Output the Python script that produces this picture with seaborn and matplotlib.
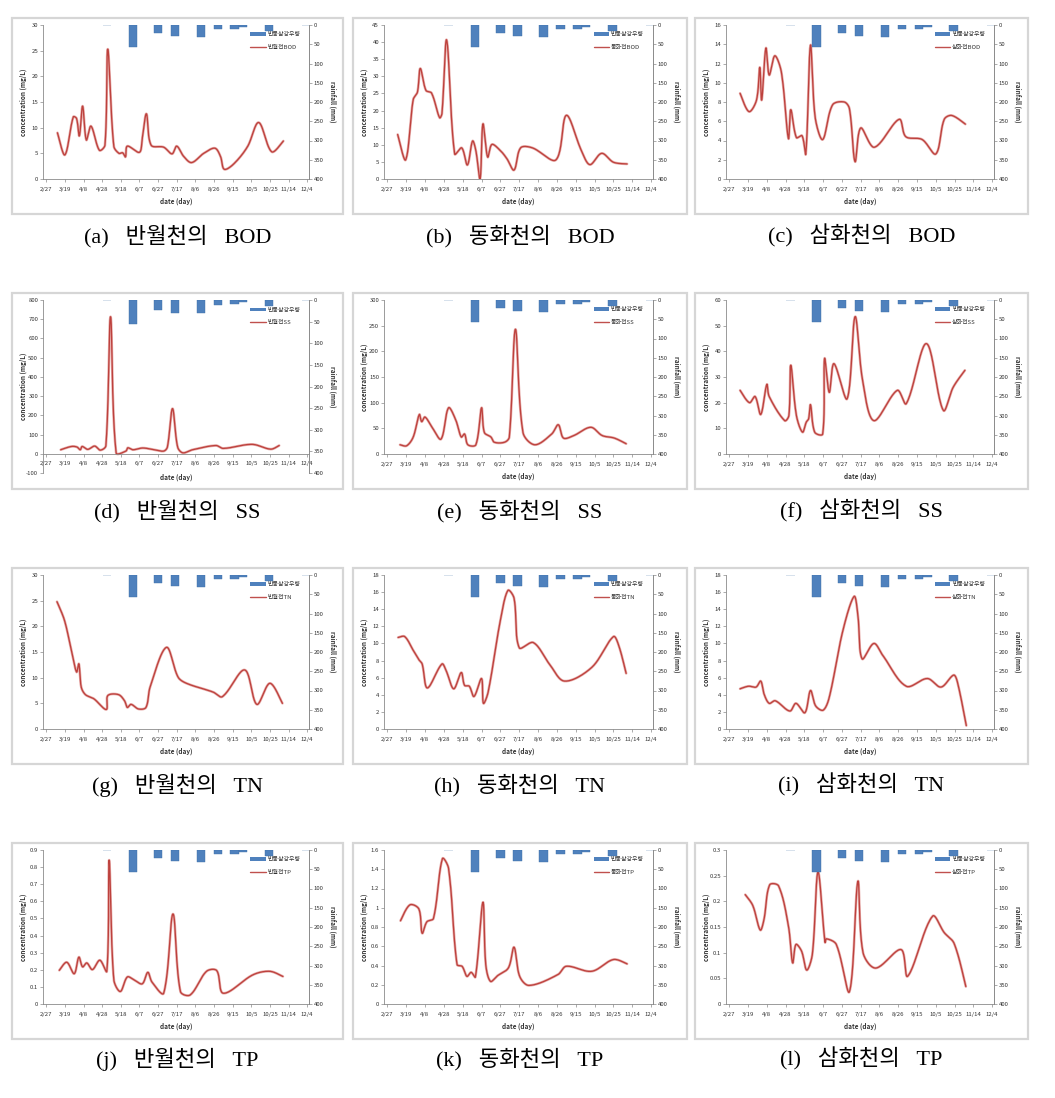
import numpy as np
import pandas as pd
import matplotlib
matplotlib.use("Agg")
import matplotlib.pyplot as plt
import seaborn as sns
from matplotlib.patches import Rectangle, Patch
from matplotlib.lines import Line2D
from matplotlib.ticker import FuncFormatter, MultipleLocator

sns.set_theme(style="white")
plt.rcParams["font.family"] = ["Noto Sans CJK KR", "DejaVu Sans"]

# ---------------- data ----------------
# x axis: days since 2/27
tick_days = [0, 20, 40, 60, 80, 100, 120, 140, 160, 180, 200, 220, 240, 260, 280]
tick_labels = ["2/27", "3/19", "4/8", "4/28", "5/18", "6/7", "6/27", "7/17",
               "8/6", "8/26", "9/15", "10/5", "10/25", "11/14", "12/4"]

rain_day = [65, 93, 120, 138, 166, 184, 202, 211, 239, 279]
rain_mm = [1, 56, 22, 29, 30, 11, 10, 4, 15, 1]
rain_label = "반동삼강우량"

banwol_bod_day = [12, 20, 29, 32.5, 35.5, 39, 43, 48, 57, 63, 66, 72.5, 78, 82, 85, 87, 100, 103,
                  107.5, 112.5, 126, 135, 140, 147.5, 156, 169, 181, 187, 191, 201, 216, 228, 242, 254.5]
banwol_bod = [9.0, 4.7, 12.1, 11.8, 8.4, 14.2, 7.6, 10.3, 5.6, 6.6, 25.3, 6.4, 5.0, 5.1, 4.3, 6.4, 5.2, 7.9,
              12.7, 6.6, 6.2, 4.9, 6.4, 4.4, 3.2, 5.0, 6.0, 4.4, 1.9, 2.9, 6.3, 11.0, 5.3, 7.4]

donghwa_bod_day = [11, 19.5, 27.5, 32, 35, 41, 47, 55.5, 58, 63, 71.5, 79, 85, 90.5, 94, 98.5, 101.5,
                   106.5, 111, 120, 127, 134.5, 141.5, 154, 179, 190, 206, 215, 227.5, 240, 254.5]
donghwa_bod = [13.0, 5.6, 23.2, 25.4, 32.3, 25.9, 25.1, 17.9, 19.1, 40.6, 7.3, 9.1, 4.1, 11.1, 8.3, 0.0, 16.1,
               6.4, 10.1, 8.3, 5.9, 2.6, 9.1, 9.1, 5.6, 18.6, 8.3, 4.2, 7.5, 4.9, 4.4]

samhwa_bod_day = [11.5, 21, 29, 32.5, 34.5, 39, 42.5, 48.5, 55.5, 63, 65.5, 71.5, 77.5, 81.5, 86.5, 91.5,
                  99.5, 110, 122.5, 128, 134, 140, 154.5, 181, 188, 205.5, 220, 229, 237, 251.5]
samhwa_bod = [8.9, 7.0, 8.2, 11.6, 8.2, 13.6, 10.8, 12.8, 11.1, 4.2, 7.2, 4.3, 4.5, 2.6, 13.9, 6.4,
              4.1, 7.7, 8.0, 7.3, 1.8, 5.3, 3.3, 6.2, 4.4, 4.1, 2.6, 6.2, 6.6, 5.7]

banwol_ss_day = [15.5, 27, 33, 36.5, 38.5, 44.5, 52, 58, 64, 69, 75, 85.5, 87.5, 93, 103.5, 116, 126,
                 130, 135.5, 141, 146.5, 157, 182, 190, 221, 241, 250]
banwol_ss = [21, 38, 35, 21, 38, 23, 40, 19, 42, 713, 5, 14, 31, 21, 30, 21, 14,
             35, 235, 35, 5, 21, 43, 28, 49, 24, 43]

donghwa_ss_day = [13.5, 20.5, 27.5, 34, 36.5, 40, 47.5, 57, 65, 72.5, 78.5, 82, 85.5, 94, 100, 103, 110,
                  113.5, 124.5, 129.5, 136, 144, 156.5, 174.5, 181.5, 187, 198, 216, 228, 241, 253.5]
donghwa_ss = [18, 16, 33, 77, 63, 72, 52, 29, 90, 67, 33, 39, 18, 18, 90, 42, 33,
              23, 23, 33, 243, 42, 18, 39, 57, 31, 36, 52, 36, 31, 20]

samhwa_ss_day = [11.5, 21.5, 27.5, 33.5, 40, 42.5, 59, 63.5, 65.5, 71.5, 78, 82, 84.5, 86.5, 91, 99.5,
                 101.5, 106.5, 111.5, 125.5, 134, 142, 154, 179, 188.5, 210, 228, 238.5, 251]
samhwa_ss = [24.8, 20, 22.4, 15.4, 27.1, 22.4, 13, 15, 34.6, 15, 8.5, 12.4, 13.7, 19.2, 8.5, 7.8,
             37.2, 24, 35.2, 21.5, 53.5, 28.7, 13, 24.8, 19.6, 43, 17, 26, 32.6]

banwol_tn_day = [11.5, 19.5, 26.5, 32.5, 35, 37.5, 42, 51, 64.5, 66, 77.5, 84, 87, 91, 99, 107, 111.5,
                 129, 141.5, 150.5, 179, 189, 213, 226, 240, 253.5]
banwol_tn = [24.8, 21.2, 15.7, 11.1, 12.7, 8.2, 6.7, 5.9, 3.8, 6.5, 6.7, 5.5, 4.2, 4.8, 3.9, 4.2, 8.2,
             15.9, 10.1, 8.9, 7.2, 6.3, 11.5, 4.8, 8.9, 5.0]

donghwa_tn_day = [11.5, 18.5, 27.5, 33.5, 37, 42.5, 58, 62.5, 70.5, 78.5, 82, 87, 92, 100, 102, 107, 120,
                  128, 134.5, 140, 155, 172, 188, 217, 240, 245.5, 253.5]
donghwa_tn = [10.7, 10.8, 9.2, 8.1, 7.6, 4.8, 7.6, 6.8, 4.7, 6.6, 5.1, 5.0, 3.8, 5.9, 3.0, 4.3, 12.7,
              16.2, 15.3, 9.5, 10.1, 7.6, 5.6, 7.2, 10.8, 9.8, 6.5]

samhwa_tn_day = [11.5, 20.5, 28.5, 33.5, 37, 42.5, 49, 64.5, 71, 80.5, 86.5, 92, 100, 106.5, 121, 133,
                 137, 141.5, 154, 163.5, 188.5, 211, 225.5, 239, 243, 252.5]
samhwa_tn = [4.7, 5.0, 4.9, 5.6, 4.1, 3.0, 3.3, 2.1, 3.0, 1.9, 4.5, 2.7, 2.2, 3.7, 11.5, 15.5,
             13.3, 8.2, 10.0, 8.6, 5.0, 5.9, 4.9, 6.3, 5.5, 0.4]

banwol_tp_day = [14, 22, 30, 35, 39, 43.5, 49.5, 57.5, 65, 67.5, 72.5, 79.5, 87, 94, 103, 109, 113.5,
                 126, 136, 144, 154.5, 172, 183, 190, 222, 240, 254]
banwol_tp = [0.197, 0.244, 0.177, 0.274, 0.217, 0.240, 0.201, 0.256, 0.191, 0.841, 0.142, 0.073, 0.158,
             0.142, 0.118, 0.185, 0.128, 0.063, 0.526, 0.073, 0.053, 0.191, 0.195, 0.063, 0.171, 0.191, 0.161]

donghwa_tp_day = [14, 24, 33.5, 37, 42, 49, 58.5, 65, 74, 79.5, 84.5, 89, 93.5, 101.5, 104.5, 109.5,
                  117, 128.5, 134.5, 140.5, 150.5, 181, 190, 217, 240, 254.5]
donghwa_tp = [0.865, 1.03, 0.987, 0.735, 0.854, 0.889, 1.51, 1.41, 0.41, 0.39, 0.287, 0.329, 0.28,
              1.057, 0.41, 0.235, 0.294, 0.375, 0.59, 0.287, 0.193, 0.305, 0.392, 0.34, 0.462, 0.417]

samhwa_tp_day = [17, 25, 33, 37, 43, 52.5, 63, 67.5, 71, 77, 82.5, 88.5, 94.5, 102, 103.5, 114, 128,
                 137, 142.5, 156, 183, 190, 216.5, 229, 239.5, 252]
samhwa_tp = [0.213, 0.192, 0.144, 0.165, 0.232, 0.230, 0.152, 0.080, 0.116, 0.103, 0.066, 0.097, 0.257,
             0.120, 0.127, 0.116, 0.024, 0.239, 0.100, 0.070, 0.106, 0.054, 0.171, 0.139, 0.118, 0.034]

panels = [
    ("a", "반월천", "BOD", banwol_bod_day, banwol_bod, (0, 30), 5),
    ("b", "동화천", "BOD", donghwa_bod_day, donghwa_bod, (0, 45), 5),
    ("c", "삼화천", "BOD", samhwa_bod_day, samhwa_bod, (0, 16), 2),
    ("d", "반월천", "SS", banwol_ss_day, banwol_ss, (-100, 800), 100),
    ("e", "동화천", "SS", donghwa_ss_day, donghwa_ss, (0, 300), 50),
    ("f", "삼화천", "SS", samhwa_ss_day, samhwa_ss, (0, 60), 10),
    ("g", "반월천", "TN", banwol_tn_day, banwol_tn, (0, 30), 5),
    ("h", "동화천", "TN", donghwa_tn_day, donghwa_tn, (0, 18), 2),
    ("i", "삼화천", "TN", samhwa_tn_day, samhwa_tn, (0, 18), 2),
    ("j", "반월천", "TP", banwol_tp_day, banwol_tp, (0, 0.9), 0.1),
    ("k", "동화천", "TP", donghwa_tp_day, donghwa_tp, (0, 1.6), 0.2),
    ("l", "삼화천", "TP", samhwa_tp_day, samhwa_tp, (0, 0.3), 0.05),
]

XLIM = (-3.5, 282)


def smooth(x, y, sx, sy, n=24):
    """Smoothed line through the points (Bezier, tangents weighted by screen distance)."""
    P = np.column_stack([np.asarray(x, float), np.asarray(y, float)])
    S = P * np.array([sx, sy])
    N = len(P)
    T = np.zeros_like(P)
    for i in range(N):
        a = max(i - 1, 0)
        b = min(i + 1, N - 1)
        T[i] = P[b] - P[a]
    out = []
    for i in range(N - 1):
        d_prev = np.linalg.norm(S[i] - S[max(i - 1, 0)])
        d_cur = np.linalg.norm(S[i + 1] - S[i])
        d_next = np.linalg.norm(S[min(i + 2, N - 1)] - S[i + 1])
        f1 = d_cur / (d_prev + d_cur) if i > 0 else 0.5
        f2 = d_cur / (d_cur + d_next) if i < N - 2 else 0.5
        if i == 0:
            T0 = P[1] - P[0]
        else:
            T0 = T[i]
        T1 = T[i + 1] if i < N - 2 else P[-1] - P[-2]
        c1 = P[i] + T0 * f1 / 3.0
        c2 = P[i + 1] - T1 * f2 / 3.0
        t = np.linspace(0, 1, n, endpoint=(i == N - 2))[:, None]
        out.append((1 - t) ** 3 * P[i] + 3 * (1 - t) ** 2 * t * c1
                   + 3 * (1 - t) * t ** 2 * c2 + t ** 3 * P[i + 1])
    return np.vstack(out)


W, H = 1055, 1098
fig = plt.figure(figsize=(W / 100, H / 100), dpi=100)
fig.patch.set_facecolor("white")

frame_l = [12, 353, 695]
frame_r = [343, 687, 1028]
frame_t = [18, 293, 568, 843]
frame_b = [214, 489, 764, 1039]
cap_y = [236, 511, 785, 1059]

AX_COL = "#8a8a8a"
TXT = "#333333"
FS = 4.3


def fmt(v, pos):
    return format(round(v, 4), "g")


for idx, (letter, river, param, xd, yv, ylim, step) in enumerate(panels):
    r, c = divmod(idx, 3)
    fl, fr, ft, fb = frame_l[c], frame_r[c], frame_t[r], frame_b[r]
    fig.add_artist(Rectangle((fl / W, 1 - fb / H), (fr - fl) / W, (fb - ft) / H,
                             transform=fig.transFigure, fill=False, ec="#d6d6d6", lw=1.6))
    pl, pr, pt = fl + 31, fr - 34, ft + 7
    pb = fb - 35 if ylim[0] >= 0 else fb - 16
    ax = fig.add_axes([pl / W, 1 - pb / H, (pr - pl) / W, (pb - pt) / H])
    ax.set_facecolor("none")

    sx = (pr - pl) / (XLIM[1] - XLIM[0])
    sy = (pb - pt) / (ylim[1] - ylim[0])
    curve = smooth(xd, yv, sx, sy)
    df = pd.DataFrame({"day": curve[:, 0], "val": curve[:, 1]})
    sns.lineplot(data=df, x="day", y="val", sort=False, estimator=None, ax=ax,
                 color="#e8b0ae", lw=1.9, legend=False)
    sns.lineplot(data=df, x="day", y="val", sort=False, estimator=None, ax=ax,
                 color="#bd413d", lw=0.95, legend=False)

    ax.set_xlim(*XLIM)
    ax.set_ylim(*ylim)
    ax.set_xticks(tick_days)
    ax.set_xticklabels(tick_labels)
    ax.yaxis.set_major_locator(MultipleLocator(step))
    ax.yaxis.set_major_formatter(FuncFormatter(fmt))
    ax.spines["top"].set_visible(False)
    for s in ["left", "bottom", "right"]:
        ax.spines[s].set_color(AX_COL)
        ax.spines[s].set_linewidth(0.6)
    if ylim[0] < 0:
        ax.spines["bottom"].set_position(("data", 0))
    ax.tick_params(axis="both", which="major", labelsize=FS, colors=AX_COL, labelcolor=TXT,
                   length=2, width=0.5, direction="out")
    ax.tick_params(axis="x", pad=3.5, bottom=True)
    ax.tick_params(axis="y", pad=1.5, left=True)
    ax.set_xlabel("date (day)", fontsize=FS + 0.3, fontweight="bold", color=TXT)
    ax.set_ylabel("concentration (mg/L)", fontsize=FS + 0.3, fontweight="bold", color=TXT)
    if ylim[0] < 0:
        ax.xaxis.set_label_coords(0.5, -0.005)
    else:
        ax.xaxis.set_label_coords(0.5, -0.12)
    ax.yaxis.set_label_coords(-0.06, 0.5)

    ax2 = ax.twinx()
    ax2.bar(rain_day, rain_mm, width=9, color="#4f81bd", edgecolor="#3f6fa8", linewidth=0.3)
    ax2.set_ylim(400, 0)
    ax2.yaxis.set_major_locator(MultipleLocator(50))
    for s in ["top", "left", "bottom"]:
        ax2.spines[s].set_visible(False)
    ax2.spines["right"].set_color(AX_COL)
    ax2.spines["right"].set_linewidth(0.6)
    ax2.tick_params(axis="y", labelsize=FS, colors=AX_COL, labelcolor=TXT, length=2, width=0.5,
                    pad=1.5, right=True)
    ax2.set_ylabel("rainfall (mm)", fontsize=FS + 0.3, fontweight="bold", color=TXT,
                   rotation=270, va="bottom")
    ax2.yaxis.set_label_coords(1.075, 0.5)

    handles = [Patch(facecolor="#4f81bd", edgecolor="none"),
               Line2D([0], [0], color="#c0504d", lw=1.0)]
    ax2.legend(handles, [rain_label, f"{river}{param}"], loc="upper left",
               bbox_to_anchor=(0.77, 0.97), frameon=False, fontsize=FS,
               handlelength=2.6, handleheight=0.6, handletextpad=0.3, labelspacing=1.3,
               borderaxespad=0, labelcolor=TXT)

    fig.text((fl + fr) / 2 / W, 1 - cap_y[r] / H, f"({letter})   {river}의   {param}",
             ha="center", va="center", fontsize=16,
             family=["Liberation Serif", "Noto Sans CJK KR"], color="black")

fig.savefig("out.png", dpi=100, facecolor="white")
